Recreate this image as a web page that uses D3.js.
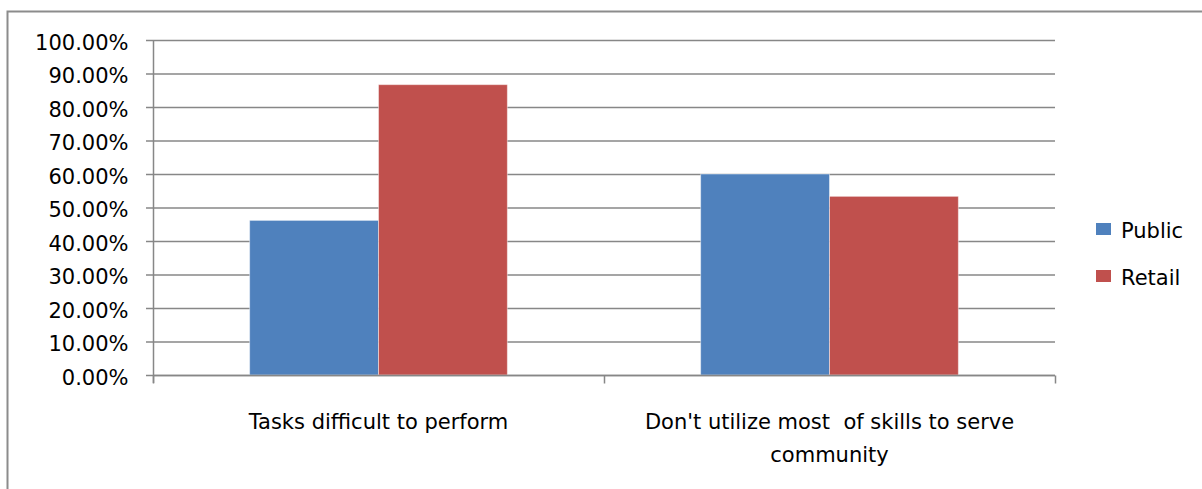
<!DOCTYPE html>
<html>
<head>
<meta charset="utf-8">
<script src="https://cdn.jsdelivr.net/npm/d3@7"></script>
<style>
    html, body { margin: 0; padding: 0; background: #fff; }
    #chart { width: 1202px; height: 489px; }
    text { font-family: "DejaVu Sans", sans-serif; fill: #000; }
</style>
</head>
<body>
<div id="chart"></div>
<script>
var categories = [
    ["Tasks difficult to perform"],
    ["Don't utilize most  of skills to serve", "community"]
];
var seriesNames = ["Public", "Retail"];
var seriesColors = ["#4F81BD", "#C0504D"];
var publicValues = [0.4615, 0.60];
var retailValues = [0.8667, 0.5333];
var yTicks = [0, 0.1, 0.2, 0.3, 0.4, 0.5, 0.6, 0.7, 0.8, 0.9, 1.0];

var seriesValues = [publicValues, retailValues];

var width = 1202;
var height = 489;
var margin = { top: 40, right: 147, bottom: 114, left: 153 };
var mwidth = width - margin.left - margin.right;
var mheight = height - margin.top - margin.bottom;

var svg = d3.select("#chart").append("svg")
    .attr("width", width)
    .attr("height", height);

// outer chart frame (right and bottom edges fall outside the picture)
svg.append("rect")
    .attr("x", 7.5)
    .attr("y", 11.5)
    .attr("width", 1300)
    .attr("height", 600)
    .attr("fill", "none")
    .attr("stroke", "#8c8c8c")
    .attr("stroke-width", 2);

var g = svg.append("g")
    .attr("transform", "translate(" + margin.left + "," + margin.top + ")");

var keys = categories.map(function (d, i) { return i; });

var x0 = d3.scaleBand()
    .domain(keys)
    .range([0, mwidth])
    .padding(0);

var x1 = d3.scaleBand()
    .domain(seriesNames)
    .range([0, x0.bandwidth()])
    .paddingInner(0)
    .paddingOuter(0.75);

var y = d3.scaleLinear()
    .domain([0, 1])
    .range([mheight, 0]);

// gridlines
g.append("g")
    .selectAll("line")
    .data(yTicks)
    .enter()
    .append("line")
    .attr("x1", -7)
    .attr("x2", mwidth)
    .attr("y1", function (d) { return y(d) + 0.5; })
    .attr("y2", function (d) { return y(d) + 0.5; })
    .attr("stroke", "#878787")
    .attr("stroke-width", 1.3);

// bars
var groups = g.selectAll(".grp")
    .data(keys)
    .enter()
    .append("g")
    .attr("class", "grp")
    .attr("transform", function (d) { return "translate(" + x0(d) + ",0)"; });

groups.selectAll("rect")
    .data(function (k) {
        return seriesNames.map(function (s, j) {
            return { name: s, value: seriesValues[j][k], color: seriesColors[j] };
        });
    })
    .enter()
    .append("rect")
    .attr("x", function (d) { return x1(d.name); })
    .attr("y", function (d) { return y(d.value); })
    .attr("width", x1.bandwidth())
    .attr("height", function (d) { return mheight - y(d.value); })
    .attr("fill", function (d) { return d.color; })
    .attr("stroke", "rgba(255,255,255,0.45)")
    .attr("stroke-width", 1);

// y axis
var yAxis = g.append("g")
    .attr("transform", "translate(0.5,0)")
    .call(d3.axisLeft(y)
        .tickValues(yTicks)
        .tickFormat(d3.format(".2%"))
        .tickSize(7)
        .tickPadding(18));
yAxis.select(".domain")
    .attr("stroke", "#878787")
    .attr("stroke-width", 1.5)
    .attr("d", "M0," + y(1) + "V" + (mheight + 8));
yAxis.selectAll(".tick line").remove();
yAxis.selectAll("text")
    .attr("font-family", "DejaVu Sans, sans-serif")
    .attr("font-size", 21)
    .attr("dy", "0.45em")
    .attr("fill", "#000");

// x axis
var xAxis = g.append("g")
    .attr("transform", "translate(0," + (mheight + 0.5) + ")");
xAxis.append("line")
    .attr("x1", 0)
    .attr("x2", mwidth)
    .attr("stroke", "#878787")
    .attr("stroke-width", 1.5);
xAxis.selectAll(".xt")
    .data(keys.concat([keys.length]))
    .enter()
    .append("line")
    .attr("class", "xt")
    .attr("x1", function (d) { return d * x0.step() + 0.5; })
    .attr("x2", function (d) { return d * x0.step() + 0.5; })
    .attr("y1", 0)
    .attr("y2", 8)
    .attr("stroke", "#878787")
    .attr("stroke-width", 1.5);

var labels = xAxis.selectAll(".cat")
    .data(keys)
    .enter()
    .append("text")
    .attr("class", "cat")
    .attr("text-anchor", "middle")
    .attr("font-size", 21)
    .style("white-space", "pre")
    .attr("transform", function (d) {
        return "translate(" + (x0(d) + x0.bandwidth() / 2) + ",53)";
    });
labels.selectAll("tspan")
    .data(function (d) { return categories[d]; })
    .enter()
    .append("tspan")
    .attr("x", 0)
    .attr("y", function (d, i) { return i * 33; })
    .text(function (d) { return d; });

// legend
var legend = svg.append("g")
    .attr("transform", "translate(1096,223)");
var items = legend.selectAll("g")
    .data(seriesNames)
    .enter()
    .append("g")
    .attr("transform", function (d, i) { return "translate(0," + (i * 47) + ")"; });
items.append("rect")
    .attr("width", 15)
    .attr("height", 12)
    .attr("fill", function (d, i) { return seriesColors[i]; });
items.append("text")
    .attr("x", 25)
    .attr("y", 15)
    .attr("font-size", 21)
    .text(function (d) { return d; });
</script>
</body>
</html>
